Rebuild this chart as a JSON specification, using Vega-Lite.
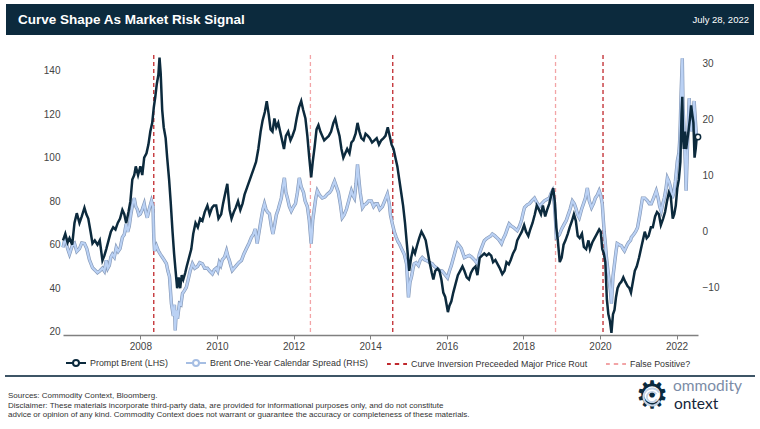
{
  "$schema": "https://vega.github.io/schema/vega-lite/v6.json",
  "width": 635,
  "height": 280,
  "autosize": {"type": "none"},
  "padding": {"left": 63, "top": 55, "right": 62, "bottom": 94},
  "background": "white",
  "config": {
    "view": {"stroke": null},
    "font": "Liberation Sans",
    "axis": {"labelFont": "Liberation Sans", "labelFontSize": 10, "labelColor": "#444444", "grid": false, "title": null},
    "legend": {"labelFont": "Liberation Sans"}
  },
  "datasets": {
    "events": [
      {"year": 2008.35, "kind": "Curve Inversion Preceeded Major Price Rout"},
      {"year": 2014.59, "kind": "Curve Inversion Preceeded Major Price Rout"},
      {"year": 2020.08, "kind": "Curve Inversion Preceeded Major Price Rout"},
      {"year": 2012.44, "kind": "False Positive?"},
      {"year": 2018.84, "kind": "False Positive?"}
    ],
    "brent": [
      {"year": 2005.98, "v": 62}, {"year": 2006.04, "v": 65}, {"year": 2006.10, "v": 61}, {"year": 2006.15, "v": 63}, {"year": 2006.22, "v": 60},
      {"year": 2006.28, "v": 70}, {"year": 2006.34, "v": 74.5}, {"year": 2006.41, "v": 70}, {"year": 2006.47, "v": 73}, {"year": 2006.54, "v": 77},
      {"year": 2006.59, "v": 74}, {"year": 2006.64, "v": 72}, {"year": 2006.70, "v": 66}, {"year": 2006.75, "v": 60.6}, {"year": 2006.81, "v": 62},
      {"year": 2006.88, "v": 60}, {"year": 2006.94, "v": 62}, {"year": 2007.01, "v": 52.8}, {"year": 2007.06, "v": 55}, {"year": 2007.11, "v": 58},
      {"year": 2007.17, "v": 62}, {"year": 2007.23, "v": 66}, {"year": 2007.29, "v": 68}, {"year": 2007.35, "v": 67}, {"year": 2007.41, "v": 70},
      {"year": 2007.47, "v": 72}, {"year": 2007.53, "v": 76}, {"year": 2007.58, "v": 74}, {"year": 2007.63, "v": 70}, {"year": 2007.69, "v": 75},
      {"year": 2007.74, "v": 80}, {"year": 2007.79, "v": 90}, {"year": 2007.84, "v": 92}, {"year": 2007.88, "v": 96}, {"year": 2007.94, "v": 92},
      {"year": 2008.00, "v": 96}, {"year": 2008.05, "v": 92}, {"year": 2008.10, "v": 100}, {"year": 2008.16, "v": 102}, {"year": 2008.21, "v": 106},
      {"year": 2008.26, "v": 112}, {"year": 2008.31, "v": 116}, {"year": 2008.35, "v": 123}, {"year": 2008.39, "v": 128}, {"year": 2008.43, "v": 134},
      {"year": 2008.47, "v": 138}, {"year": 2008.50, "v": 146}, {"year": 2008.53, "v": 139}, {"year": 2008.57, "v": 122}, {"year": 2008.61, "v": 114},
      {"year": 2008.66, "v": 109}, {"year": 2008.70, "v": 100}, {"year": 2008.75, "v": 90}, {"year": 2008.79, "v": 80}, {"year": 2008.84, "v": 66},
      {"year": 2008.88, "v": 56}, {"year": 2008.92, "v": 48}, {"year": 2008.96, "v": 40}, {"year": 2009.00, "v": 45}, {"year": 2009.04, "v": 40},
      {"year": 2009.08, "v": 46}, {"year": 2009.12, "v": 44}, {"year": 2009.17, "v": 47}, {"year": 2009.21, "v": 50}, {"year": 2009.27, "v": 54},
      {"year": 2009.33, "v": 58}, {"year": 2009.38, "v": 65}, {"year": 2009.44, "v": 70}, {"year": 2009.50, "v": 68}, {"year": 2009.56, "v": 72},
      {"year": 2009.62, "v": 71}, {"year": 2009.68, "v": 75}, {"year": 2009.75, "v": 78}, {"year": 2009.81, "v": 74}, {"year": 2009.87, "v": 77},
      {"year": 2009.92, "v": 78}, {"year": 2009.98, "v": 78}, {"year": 2010.04, "v": 72}, {"year": 2010.11, "v": 74}, {"year": 2010.16, "v": 79},
      {"year": 2010.22, "v": 84}, {"year": 2010.27, "v": 88}, {"year": 2010.33, "v": 76}, {"year": 2010.38, "v": 72}, {"year": 2010.44, "v": 75},
      {"year": 2010.49, "v": 77}, {"year": 2010.55, "v": 80}, {"year": 2010.61, "v": 76}, {"year": 2010.67, "v": 79}, {"year": 2010.72, "v": 83},
      {"year": 2010.78, "v": 86}, {"year": 2010.84, "v": 89}, {"year": 2010.90, "v": 92}, {"year": 2010.96, "v": 95}, {"year": 2011.02, "v": 98},
      {"year": 2011.08, "v": 104}, {"year": 2011.14, "v": 112}, {"year": 2011.19, "v": 117}, {"year": 2011.25, "v": 121}, {"year": 2011.30, "v": 126},
      {"year": 2011.35, "v": 120}, {"year": 2011.40, "v": 113}, {"year": 2011.45, "v": 112}, {"year": 2011.50, "v": 118}, {"year": 2011.55, "v": 114},
      {"year": 2011.60, "v": 116}, {"year": 2011.65, "v": 112}, {"year": 2011.70, "v": 108}, {"year": 2011.75, "v": 104}, {"year": 2011.80, "v": 110},
      {"year": 2011.86, "v": 112}, {"year": 2011.92, "v": 108}, {"year": 2011.97, "v": 110}, {"year": 2012.03, "v": 113}, {"year": 2012.08, "v": 118},
      {"year": 2012.14, "v": 123}, {"year": 2012.20, "v": 126}, {"year": 2012.25, "v": 122}, {"year": 2012.31, "v": 118}, {"year": 2012.36, "v": 110},
      {"year": 2012.41, "v": 100}, {"year": 2012.46, "v": 91}, {"year": 2012.50, "v": 98}, {"year": 2012.55, "v": 105}, {"year": 2012.60, "v": 113},
      {"year": 2012.65, "v": 115}, {"year": 2012.70, "v": 112}, {"year": 2012.75, "v": 110}, {"year": 2012.80, "v": 108}, {"year": 2012.86, "v": 109},
      {"year": 2012.92, "v": 110}, {"year": 2012.98, "v": 112}, {"year": 2013.04, "v": 116}, {"year": 2013.09, "v": 118}, {"year": 2013.14, "v": 114},
      {"year": 2013.20, "v": 110}, {"year": 2013.25, "v": 104}, {"year": 2013.30, "v": 100}, {"year": 2013.35, "v": 102}, {"year": 2013.40, "v": 104},
      {"year": 2013.46, "v": 102}, {"year": 2013.51, "v": 107}, {"year": 2013.56, "v": 108}, {"year": 2013.62, "v": 111}, {"year": 2013.67, "v": 116},
      {"year": 2013.72, "v": 112}, {"year": 2013.77, "v": 109}, {"year": 2013.83, "v": 108}, {"year": 2013.88, "v": 111}, {"year": 2013.94, "v": 110},
      {"year": 2013.99, "v": 109}, {"year": 2014.05, "v": 107}, {"year": 2014.11, "v": 108}, {"year": 2014.17, "v": 109}, {"year": 2014.23, "v": 106},
      {"year": 2014.29, "v": 108}, {"year": 2014.35, "v": 109}, {"year": 2014.40, "v": 110}, {"year": 2014.46, "v": 114}, {"year": 2014.51, "v": 110},
      {"year": 2014.56, "v": 106}, {"year": 2014.61, "v": 104}, {"year": 2014.66, "v": 100}, {"year": 2014.71, "v": 96}, {"year": 2014.76, "v": 90},
      {"year": 2014.81, "v": 84}, {"year": 2014.86, "v": 78}, {"year": 2014.91, "v": 70}, {"year": 2014.96, "v": 60}, {"year": 2015.02, "v": 48},
      {"year": 2015.07, "v": 54}, {"year": 2015.12, "v": 58}, {"year": 2015.17, "v": 56}, {"year": 2015.23, "v": 60}, {"year": 2015.28, "v": 63},
      {"year": 2015.34, "v": 66}, {"year": 2015.40, "v": 64}, {"year": 2015.45, "v": 62}, {"year": 2015.50, "v": 57}, {"year": 2015.55, "v": 52},
      {"year": 2015.61, "v": 47}, {"year": 2015.65, "v": 44}, {"year": 2015.70, "v": 48}, {"year": 2015.76, "v": 49}, {"year": 2015.81, "v": 48},
      {"year": 2015.86, "v": 44}, {"year": 2015.91, "v": 38}, {"year": 2015.96, "v": 36}, {"year": 2016.03, "v": 29}, {"year": 2016.07, "v": 32},
      {"year": 2016.12, "v": 34}, {"year": 2016.17, "v": 38}, {"year": 2016.23, "v": 42}, {"year": 2016.29, "v": 46}, {"year": 2016.35, "v": 48},
      {"year": 2016.41, "v": 50}, {"year": 2016.46, "v": 48}, {"year": 2016.52, "v": 45}, {"year": 2016.58, "v": 44}, {"year": 2016.63, "v": 47},
      {"year": 2016.69, "v": 49}, {"year": 2016.75, "v": 50}, {"year": 2016.80, "v": 46}, {"year": 2016.86, "v": 54}, {"year": 2016.92, "v": 55},
      {"year": 2016.98, "v": 56}, {"year": 2017.04, "v": 55}, {"year": 2017.10, "v": 56}, {"year": 2017.16, "v": 55}, {"year": 2017.21, "v": 52},
      {"year": 2017.27, "v": 53}, {"year": 2017.33, "v": 51}, {"year": 2017.39, "v": 49}, {"year": 2017.45, "v": 46.5}, {"year": 2017.51, "v": 48},
      {"year": 2017.56, "v": 52}, {"year": 2017.62, "v": 51}, {"year": 2017.67, "v": 53}, {"year": 2017.73, "v": 56}, {"year": 2017.79, "v": 58},
      {"year": 2017.84, "v": 62}, {"year": 2017.90, "v": 64}, {"year": 2017.96, "v": 66}, {"year": 2018.02, "v": 69}, {"year": 2018.07, "v": 66},
      {"year": 2018.13, "v": 64}, {"year": 2018.18, "v": 67}, {"year": 2018.24, "v": 70}, {"year": 2018.30, "v": 74}, {"year": 2018.35, "v": 78},
      {"year": 2018.41, "v": 76}, {"year": 2018.46, "v": 74}, {"year": 2018.51, "v": 78}, {"year": 2018.57, "v": 73}, {"year": 2018.62, "v": 76},
      {"year": 2018.68, "v": 79}, {"year": 2018.73, "v": 83}, {"year": 2018.78, "v": 86}, {"year": 2018.82, "v": 80}, {"year": 2018.86, "v": 68},
      {"year": 2018.90, "v": 62}, {"year": 2018.95, "v": 52}, {"year": 2019.00, "v": 54}, {"year": 2019.05, "v": 60}, {"year": 2019.10, "v": 62},
      {"year": 2019.16, "v": 65}, {"year": 2019.21, "v": 68}, {"year": 2019.27, "v": 71}, {"year": 2019.32, "v": 74}, {"year": 2019.37, "v": 71},
      {"year": 2019.42, "v": 64}, {"year": 2019.47, "v": 63}, {"year": 2019.53, "v": 65}, {"year": 2019.58, "v": 59}, {"year": 2019.64, "v": 58},
      {"year": 2019.70, "v": 62}, {"year": 2019.74, "v": 58}, {"year": 2019.80, "v": 61}, {"year": 2019.86, "v": 63}, {"year": 2019.92, "v": 65},
      {"year": 2019.98, "v": 67}, {"year": 2020.02, "v": 66}, {"year": 2020.06, "v": 58}, {"year": 2020.10, "v": 56}, {"year": 2020.14, "v": 52},
      {"year": 2020.18, "v": 35}, {"year": 2020.22, "v": 28}, {"year": 2020.26, "v": 25}, {"year": 2020.30, "v": 19.5}, {"year": 2020.34, "v": 28},
      {"year": 2020.38, "v": 30}, {"year": 2020.42, "v": 36}, {"year": 2020.46, "v": 40}, {"year": 2020.51, "v": 42}, {"year": 2020.56, "v": 43},
      {"year": 2020.61, "v": 45}, {"year": 2020.66, "v": 43}, {"year": 2020.72, "v": 41}, {"year": 2020.77, "v": 40}, {"year": 2020.81, "v": 38},
      {"year": 2020.86, "v": 43}, {"year": 2020.91, "v": 48}, {"year": 2020.96, "v": 50}, {"year": 2021.02, "v": 54}, {"year": 2021.07, "v": 58},
      {"year": 2021.12, "v": 62}, {"year": 2021.17, "v": 66}, {"year": 2021.22, "v": 63}, {"year": 2021.27, "v": 64}, {"year": 2021.33, "v": 68},
      {"year": 2021.38, "v": 68}, {"year": 2021.44, "v": 73}, {"year": 2021.49, "v": 75}, {"year": 2021.54, "v": 74}, {"year": 2021.59, "v": 69},
      {"year": 2021.65, "v": 72}, {"year": 2021.70, "v": 75}, {"year": 2021.75, "v": 80}, {"year": 2021.80, "v": 84}, {"year": 2021.85, "v": 82},
      {"year": 2021.90, "v": 72}, {"year": 2021.94, "v": 74}, {"year": 2021.98, "v": 78}, {"year": 2022.02, "v": 86}, {"year": 2022.06, "v": 90},
      {"year": 2022.10, "v": 98}, {"year": 2022.13, "v": 120}, {"year": 2022.15, "v": 128}, {"year": 2022.17, "v": 110}, {"year": 2022.19, "v": 104},
      {"year": 2022.22, "v": 112}, {"year": 2022.25, "v": 104}, {"year": 2022.28, "v": 108}, {"year": 2022.31, "v": 112}, {"year": 2022.35, "v": 118},
      {"year": 2022.38, "v": 124}, {"year": 2022.41, "v": 120}, {"year": 2022.44, "v": 116}, {"year": 2022.47, "v": 100}, {"year": 2022.50, "v": 104},
      {"year": 2022.53, "v": 110}, {"year": 2022.56, "v": 109.5}
    ],
    "spread": [
      {"year": 2005.98, "v": -2.8}, {"year": 2006.04, "v": -1}, {"year": 2006.10, "v": -3}, {"year": 2006.15, "v": -4}, {"year": 2006.22, "v": -2.5},
      {"year": 2006.28, "v": -2.1}, {"year": 2006.34, "v": -3.5}, {"year": 2006.41, "v": -3}, {"year": 2006.47, "v": -2}, {"year": 2006.54, "v": -2.1},
      {"year": 2006.60, "v": -3}, {"year": 2006.67, "v": -5}, {"year": 2006.75, "v": -6.4}, {"year": 2006.81, "v": -6.8}, {"year": 2006.88, "v": -7.3},
      {"year": 2006.94, "v": -7}, {"year": 2007.01, "v": -6.5}, {"year": 2007.06, "v": -7}, {"year": 2007.11, "v": -5.1}, {"year": 2007.15, "v": -6.5},
      {"year": 2007.19, "v": -6}, {"year": 2007.23, "v": -4.5}, {"year": 2007.27, "v": -4}, {"year": 2007.32, "v": -4.5}, {"year": 2007.37, "v": -2.8},
      {"year": 2007.42, "v": -3.5}, {"year": 2007.47, "v": -3}, {"year": 2007.53, "v": -1}, {"year": 2007.58, "v": -0.5}, {"year": 2007.63, "v": 1.4},
      {"year": 2007.67, "v": 0}, {"year": 2007.71, "v": 1}, {"year": 2007.75, "v": 3}, {"year": 2007.80, "v": 5}, {"year": 2007.84, "v": 6},
      {"year": 2007.88, "v": 4.5}, {"year": 2007.92, "v": 4}, {"year": 2007.96, "v": 3}, {"year": 2008.00, "v": 3.2}, {"year": 2008.05, "v": 4},
      {"year": 2008.10, "v": 5}, {"year": 2008.14, "v": 3.5}, {"year": 2008.18, "v": 2.5}, {"year": 2008.23, "v": 4}, {"year": 2008.29, "v": 5.5},
      {"year": 2008.33, "v": 4.5}, {"year": 2008.35, "v": -1}, {"year": 2008.37, "v": -3.4}, {"year": 2008.42, "v": -2.5}, {"year": 2008.47, "v": -3.4},
      {"year": 2008.52, "v": -4}, {"year": 2008.57, "v": -4.5}, {"year": 2008.62, "v": -5}, {"year": 2008.68, "v": -5.7}, {"year": 2008.72, "v": -7},
      {"year": 2008.76, "v": -8}, {"year": 2008.81, "v": -12.8}, {"year": 2008.86, "v": -15}, {"year": 2008.89, "v": -13}, {"year": 2008.91, "v": -17.6},
      {"year": 2008.94, "v": -14}, {"year": 2008.97, "v": -15.5}, {"year": 2009.02, "v": -12.8}, {"year": 2009.06, "v": -13}, {"year": 2009.10, "v": -11},
      {"year": 2009.15, "v": -10.5}, {"year": 2009.20, "v": -9.9}, {"year": 2009.25, "v": -8.5}, {"year": 2009.30, "v": -7}, {"year": 2009.36, "v": -5.7},
      {"year": 2009.42, "v": -6.5}, {"year": 2009.49, "v": -6.2}, {"year": 2009.55, "v": -5.5}, {"year": 2009.62, "v": -5.7}, {"year": 2009.68, "v": -6.5},
      {"year": 2009.75, "v": -6.5}, {"year": 2009.81, "v": -7}, {"year": 2009.88, "v": -7.5}, {"year": 2009.93, "v": -6.8}, {"year": 2009.98, "v": -6.5},
      {"year": 2010.02, "v": -7}, {"year": 2010.06, "v": -5.5}, {"year": 2010.10, "v": -6}, {"year": 2010.14, "v": -5}, {"year": 2010.20, "v": -4.5},
      {"year": 2010.25, "v": -3.4}, {"year": 2010.29, "v": -4.5}, {"year": 2010.32, "v": -5}, {"year": 2010.36, "v": -6}, {"year": 2010.40, "v": -6.9},
      {"year": 2010.45, "v": -6.5}, {"year": 2010.51, "v": -6}, {"year": 2010.57, "v": -5.5}, {"year": 2010.64, "v": -5.1}, {"year": 2010.70, "v": -4},
      {"year": 2010.77, "v": -3}, {"year": 2010.84, "v": -2}, {"year": 2010.90, "v": -1}, {"year": 2010.95, "v": -0.5}, {"year": 2011.00, "v": 0.5},
      {"year": 2011.05, "v": -2.1}, {"year": 2011.10, "v": 0}, {"year": 2011.16, "v": 2.5}, {"year": 2011.20, "v": 4}, {"year": 2011.24, "v": 5},
      {"year": 2011.28, "v": 4}, {"year": 2011.32, "v": 3.5}, {"year": 2011.37, "v": 3.2}, {"year": 2011.42, "v": 1}, {"year": 2011.46, "v": -0.4},
      {"year": 2011.50, "v": 1}, {"year": 2011.55, "v": 3}, {"year": 2011.60, "v": 4}, {"year": 2011.68, "v": 6}, {"year": 2011.72, "v": 8},
      {"year": 2011.76, "v": 9.6}, {"year": 2011.80, "v": 7}, {"year": 2011.84, "v": 6}, {"year": 2011.89, "v": 4.5}, {"year": 2011.94, "v": 3.7},
      {"year": 2012.00, "v": 4.5}, {"year": 2012.05, "v": 5}, {"year": 2012.10, "v": 7}, {"year": 2012.15, "v": 9.6}, {"year": 2012.20, "v": 8},
      {"year": 2012.26, "v": 7}, {"year": 2012.30, "v": 5.5}, {"year": 2012.36, "v": 4.5}, {"year": 2012.41, "v": 2}, {"year": 2012.46, "v": -2.1},
      {"year": 2012.50, "v": 2}, {"year": 2012.54, "v": 4}, {"year": 2012.58, "v": 6}, {"year": 2012.62, "v": 7.3}, {"year": 2012.68, "v": 6.5},
      {"year": 2012.75, "v": 6}, {"year": 2012.82, "v": 6.2}, {"year": 2012.88, "v": 6.7}, {"year": 2012.94, "v": 7}, {"year": 2012.99, "v": 7.5},
      {"year": 2013.04, "v": 8.5}, {"year": 2013.07, "v": 9}, {"year": 2013.12, "v": 8}, {"year": 2013.17, "v": 7}, {"year": 2013.22, "v": 5},
      {"year": 2013.27, "v": 2.5}, {"year": 2013.32, "v": 3}, {"year": 2013.38, "v": 4}, {"year": 2013.44, "v": 5.5}, {"year": 2013.51, "v": 7.3},
      {"year": 2013.55, "v": 6.5}, {"year": 2013.59, "v": 6}, {"year": 2013.63, "v": 8.5}, {"year": 2013.67, "v": 12}, {"year": 2013.71, "v": 9},
      {"year": 2013.74, "v": 7}, {"year": 2013.80, "v": 4.3}, {"year": 2013.85, "v": 4.8}, {"year": 2013.90, "v": 5}, {"year": 2013.96, "v": 5.5},
      {"year": 2014.03, "v": 5.5}, {"year": 2014.09, "v": 4.5}, {"year": 2014.14, "v": 5}, {"year": 2014.19, "v": 5}, {"year": 2014.25, "v": 4},
      {"year": 2014.32, "v": 4.5}, {"year": 2014.38, "v": 5.5}, {"year": 2014.45, "v": 6.7}, {"year": 2014.50, "v": 5}, {"year": 2014.53, "v": 3},
      {"year": 2014.58, "v": 1.4}, {"year": 2014.63, "v": 0}, {"year": 2014.68, "v": -1}, {"year": 2014.73, "v": -1.8}, {"year": 2014.76, "v": -2.1},
      {"year": 2014.82, "v": -3}, {"year": 2014.89, "v": -4}, {"year": 2014.95, "v": -5.7}, {"year": 2015.00, "v": -11.7}, {"year": 2015.04, "v": -9},
      {"year": 2015.08, "v": -8}, {"year": 2015.12, "v": -6.5}, {"year": 2015.15, "v": -5.7}, {"year": 2015.20, "v": -5.5}, {"year": 2015.26, "v": -6},
      {"year": 2015.31, "v": -5}, {"year": 2015.36, "v": -4.6}, {"year": 2015.42, "v": -5}, {"year": 2015.49, "v": -5.2}, {"year": 2015.55, "v": -5.5},
      {"year": 2015.62, "v": -5.7}, {"year": 2015.68, "v": -6.2}, {"year": 2015.75, "v": -6.5}, {"year": 2015.81, "v": -6.9}, {"year": 2015.88, "v": -7},
      {"year": 2015.94, "v": -7.5}, {"year": 2016.02, "v": -8.2}, {"year": 2016.07, "v": -7}, {"year": 2016.12, "v": -6}, {"year": 2016.16, "v": -5},
      {"year": 2016.20, "v": -4}, {"year": 2016.24, "v": -3}, {"year": 2016.28, "v": -2.1}, {"year": 2016.33, "v": -2.5}, {"year": 2016.38, "v": -3},
      {"year": 2016.46, "v": -4.6}, {"year": 2016.52, "v": -4.4}, {"year": 2016.59, "v": -4.2}, {"year": 2016.65, "v": -4.5}, {"year": 2016.72, "v": -5},
      {"year": 2016.80, "v": -5.7}, {"year": 2016.85, "v": -4}, {"year": 2016.90, "v": -3}, {"year": 2016.98, "v": -1.6}, {"year": 2017.04, "v": -1.2},
      {"year": 2017.09, "v": -1}, {"year": 2017.14, "v": -0.8}, {"year": 2017.19, "v": -0.4}, {"year": 2017.25, "v": -0.7}, {"year": 2017.30, "v": -1},
      {"year": 2017.37, "v": -1.5}, {"year": 2017.43, "v": -2.1}, {"year": 2017.48, "v": -1.2}, {"year": 2017.53, "v": -0.5}, {"year": 2017.58, "v": 0.5},
      {"year": 2017.63, "v": 1.4}, {"year": 2017.69, "v": 1}, {"year": 2017.74, "v": 0.8}, {"year": 2017.79, "v": 0.5}, {"year": 2017.84, "v": 0.2},
      {"year": 2017.90, "v": 1}, {"year": 2017.95, "v": 2}, {"year": 2018.00, "v": 3.5}, {"year": 2018.03, "v": 4.3}, {"year": 2018.10, "v": 4.8},
      {"year": 2018.16, "v": 5}, {"year": 2018.22, "v": 5.5}, {"year": 2018.29, "v": 6}, {"year": 2018.35, "v": 5.2}, {"year": 2018.42, "v": 4.5},
      {"year": 2018.48, "v": 5}, {"year": 2018.55, "v": 5.5}, {"year": 2018.62, "v": 5.8}, {"year": 2018.68, "v": 6}, {"year": 2018.72, "v": 6.8},
      {"year": 2018.76, "v": 7.3}, {"year": 2018.81, "v": 5}, {"year": 2018.84, "v": 2}, {"year": 2018.86, "v": -1}, {"year": 2018.90, "v": -0.8},
      {"year": 2018.94, "v": -0.5}, {"year": 2019.00, "v": 0.5}, {"year": 2019.07, "v": 1.4}, {"year": 2019.12, "v": 2}, {"year": 2019.17, "v": 3},
      {"year": 2019.22, "v": 4}, {"year": 2019.28, "v": 5.5}, {"year": 2019.33, "v": 5}, {"year": 2019.38, "v": 4}, {"year": 2019.42, "v": 3},
      {"year": 2019.46, "v": 2.5}, {"year": 2019.52, "v": 4}, {"year": 2019.57, "v": 5}, {"year": 2019.62, "v": 6}, {"year": 2019.67, "v": 7.8},
      {"year": 2019.72, "v": 5.5}, {"year": 2019.78, "v": 4.3}, {"year": 2019.83, "v": 5}, {"year": 2019.88, "v": 6}, {"year": 2019.93, "v": 6.5},
      {"year": 2019.98, "v": 7.3}, {"year": 2020.02, "v": 6.5}, {"year": 2020.06, "v": 5}, {"year": 2020.09, "v": 2}, {"year": 2020.11, "v": 0},
      {"year": 2020.14, "v": -2}, {"year": 2020.17, "v": -4.6}, {"year": 2020.21, "v": -7}, {"year": 2020.25, "v": -9.2}, {"year": 2020.28, "v": -11},
      {"year": 2020.30, "v": -12.8}, {"year": 2020.34, "v": -8}, {"year": 2020.38, "v": -5.7}, {"year": 2020.42, "v": -3.5}, {"year": 2020.45, "v": -2.1},
      {"year": 2020.50, "v": -2.3}, {"year": 2020.56, "v": -2.5}, {"year": 2020.60, "v": -3}, {"year": 2020.64, "v": -3.4}, {"year": 2020.70, "v": -2.5},
      {"year": 2020.74, "v": -2}, {"year": 2020.80, "v": -1.5}, {"year": 2020.82, "v": -1}, {"year": 2020.88, "v": -0.5}, {"year": 2020.93, "v": 0},
      {"year": 2020.98, "v": 0.7}, {"year": 2021.04, "v": 3}, {"year": 2021.11, "v": 6}, {"year": 2021.17, "v": 6}, {"year": 2021.24, "v": 5.5},
      {"year": 2021.29, "v": 5}, {"year": 2021.34, "v": 5}, {"year": 2021.40, "v": 6}, {"year": 2021.47, "v": 7.3}, {"year": 2021.52, "v": 6},
      {"year": 2021.56, "v": 4.5}, {"year": 2021.60, "v": 3.7}, {"year": 2021.64, "v": 5}, {"year": 2021.68, "v": 6}, {"year": 2021.72, "v": 7.5},
      {"year": 2021.76, "v": 9.6}, {"year": 2021.80, "v": 9}, {"year": 2021.84, "v": 8}, {"year": 2021.89, "v": 6}, {"year": 2021.93, "v": 7},
      {"year": 2021.97, "v": 9}, {"year": 2022.02, "v": 12.6}, {"year": 2022.06, "v": 14}, {"year": 2022.08, "v": 16}, {"year": 2022.10, "v": 20},
      {"year": 2022.12, "v": 25}, {"year": 2022.15, "v": 30.9}, {"year": 2022.17, "v": 22}, {"year": 2022.20, "v": 17.9}, {"year": 2022.23, "v": 12},
      {"year": 2022.25, "v": 7.3}, {"year": 2022.28, "v": 14}, {"year": 2022.30, "v": 18}, {"year": 2022.33, "v": 23.8}, {"year": 2022.36, "v": 20},
      {"year": 2022.39, "v": 17.9}, {"year": 2022.42, "v": 20}, {"year": 2022.46, "v": 23.3}, {"year": 2022.49, "v": 20}, {"year": 2022.52, "v": 17},
      {"year": 2022.56, "v": 16.7}
    ]
  },
  "layer": [
    {
      "data": {"values": [{}]},
      "mark": {"type": "rect", "color": "#0c2a3d"},
      "encoding": {"x": {"value": -57}, "x2": {"value": 691}, "y": {"value": -51}, "y2": {"value": -20}}
    },
    {
      "data": {"values": [{}]},
      "mark": {"type": "text", "text": "Curve Shape As Market Risk Signal", "align": "left", "baseline": "middle", "fontSize": 13.5, "fontWeight": "bold", "color": "white", "font": "Liberation Sans"},
      "encoding": {"x": {"value": -45}, "y": {"value": -35}}
    },
    {
      "data": {"values": [{}]},
      "mark": {"type": "text", "text": "July 28, 2022", "align": "right", "baseline": "middle", "fontSize": 9.5, "color": "white", "font": "Liberation Sans"},
      "encoding": {"x": {"value": 686}, "y": {"value": -35}}
    },
    {
      "data": {"name": "events"},
      "mark": {"type": "rule", "strokeDash": [4, 3], "strokeWidth": 1.3},
      "encoding": {
        "x": {"field": "year", "type": "quantitative", "scale": {"domain": [2005.98, 2022.56], "nice": false, "zero": false},
              "axis": {"values": [2008, 2010, 2012, 2014, 2016, 2018, 2020, 2022], "format": "d", "domainColor": "#808080", "domainWidth": 1.5, "tickColor": "#808080", "tickSize": 4, "labelPadding": 2}},
        "color": {
          "field": "kind", "type": "nominal",
          "scale": {"domain": ["Prompt Brent (LHS)", "Brent One-Year Calendar Spread (RHS)", "Curve Inversion Preceeded Major Price Rout", "False Positive?"],
                    "range": ["#0c2a3d", "#a6bee3", "#c0282d", "#f2a4a6"]},
          "legend": {
            "title": null, "orient": "none", "direction": "horizontal", "legendX": 2, "legendY": 297,
            "labelFontSize": 8.9, "labelColor": "#333333", "labelOffset": 3, "columnPadding": 14, "labelLimit": 400,
            "symbolSize": 400, "symbolStrokeWidth": 2,
            "symbolType": "M-1,0H-0.3M0.3,0H1M-0.3,0A0.3,0.3,0,1,1,0.3,0A0.3,0.3,0,1,1,-0.3,0",
            "encode": {"symbols": {"update": {
              "shape": {"signal": "indexof(['Prompt Brent (LHS)','Brent One-Year Calendar Spread (RHS)'], datum.value) >= 0 ? 'M-1,0H-0.3M0.3,0H1M-0.3,0A0.3,0.3,0,1,1,0.3,0A0.3,0.3,0,1,1,-0.3,0' : 'M-1,0H-0.62M-0.22,0H0.22M0.62,0H1'"},
              "fill": {"value": "white"},
              "strokeWidth": {"value": 2},
              "strokeDash": {"value": []},
              "opacity": {"value": 1}
            }}}
          }
        }
      }
    },
    {
      "data": {"name": "spread"},
      "encoding": {
        "y": {"field": "v", "type": "quantitative", "scale": {"domain": [-18.4, 31.5], "nice": false, "zero": false},
              "axis": {"orient": "right", "values": [-10, 0, 10, 20, 30], "domain": false, "ticks": false, "labelPadding": 4}}
      },
      "layer": [
        {
          "data": {"values": [{}]},
          "mark": {"type": "rule", "strokeDash": [2, 2], "color": "#cccccc", "strokeWidth": 1},
          "encoding": {"y": {"datum": 0}}
        },
        {
          "mark": {"type": "line", "color": "#8599b8", "strokeWidth": 3.4},
          "encoding": {"x": {"field": "year", "type": "quantitative"}}
        },
        {
          "mark": {"type": "line", "strokeWidth": 2.1, "color": "#bad1f4"},
          "encoding": {"x": {"field": "year", "type": "quantitative"}}
        },
        {
          "mark": {"type": "line", "strokeWidth": 0, "strokeOpacity": 0},
          "encoding": {"x": {"field": "year", "type": "quantitative"}, "color": {"datum": "Brent One-Year Calendar Spread (RHS)", "type": "nominal"}}
        }
      ]
    },
    {
      "data": {"name": "brent"},
      "encoding": {
        "x": {"field": "year", "type": "quantitative"},
        "y": {"field": "v", "type": "quantitative", "scale": {"domain": [18.5, 147.2], "nice": false, "zero": false},
              "axis": {"orient": "left", "values": [20, 40, 60, 80, 100, 120, 140], "domain": false, "ticks": false, "labelPadding": 3}}
      },
      "layer": [
        {
          "mark": {"type": "line", "strokeWidth": 2.5},
          "encoding": {"color": {"datum": "Prompt Brent (LHS)", "type": "nominal"}}
        },
        {
          "transform": [{"filter": "datum.year > 2022.55"}],
          "mark": {"type": "point", "filled": true, "fill": "white", "stroke": "#0c2a3d", "strokeWidth": 1.5, "size": 28, "opacity": 1}
        }
      ]
    },
    {
      "data": {"values": [{}]},
      "mark": {"type": "rule", "color": "#3e5566", "strokeWidth": 2},
      "encoding": {"x": {"value": -58}, "x2": {"value": 692}, "y": {"value": 321}}
    },
    {
      "data": {"values": [{}]},
      "mark": {"type": "text", "align": "left", "baseline": "middle", "fontSize": 8, "lineHeight": 9.5, "color": "#333333", "font": "Liberation Sans",
               "text": ["Sources: Commodity Context, Bloomberg.", "Disclaimer: These materials incorporate third-party data, are provided for informational purposes only, and do not constitute", "advice or opinion of any kind. Commodity Context does not warrant or guarantee the accuracy or completeness of these materials."]},
      "encoding": {"x": {"value": -55}, "y": {"value": 341}}
    },
    {
      "data": {"values": [{}]},
      "mark": {"type": "text", "text": "⚙", "align": "center", "baseline": "middle", "fontSize": 38, "color": "#0c2a3d", "font": "DejaVu Sans"},
      "encoding": {"x": {"value": 589}, "y": {"value": 342}}
    },
    {
      "data": {"values": [{}]},
      "mark": {"type": "arc", "theta": 2.0, "theta2": 7.3, "radius": 9.5, "radius2": 7.5, "color": "#c4d3e6"},
      "encoding": {"x": {"value": 589}, "y": {"value": 342}}
    },
    {
      "data": {"values": [{}]},
      "mark": {"type": "arc", "theta": 2.0, "theta2": 7.3, "radius": 6, "radius2": 4.2, "color": "#c4d3e6"},
      "encoding": {"x": {"value": 589}, "y": {"value": 342}}
    },
    {
      "data": {"values": [{}]},
      "mark": {"type": "text", "text": "ommodity", "align": "left", "baseline": "middle", "fontSize": 15.5, "color": "#7b8ca6", "font": "Lato"},
      "encoding": {"x": {"value": 610}, "y": {"value": 331}}
    },
    {
      "data": {"values": [{}]},
      "mark": {"type": "text", "text": "ontext", "align": "left", "baseline": "middle", "fontSize": 15.5, "color": "#14263a", "font": "Lato"},
      "encoding": {"x": {"value": 611}, "y": {"value": 349}}
    }
  ],
  "resolve": {"scale": {"y": "independent"}}
}
